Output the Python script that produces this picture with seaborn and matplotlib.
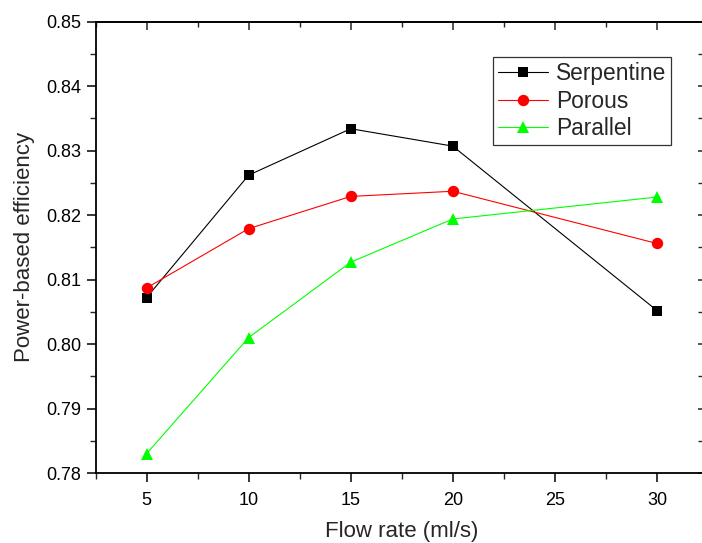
import matplotlib
matplotlib.use("Agg")
import matplotlib.pyplot as plt
from matplotlib.ticker import MultipleLocator
import seaborn as sns
import pandas as pd

flow_rate = [5, 10, 15, 20, 30]
serpentine = [0.8072, 0.8262, 0.8334, 0.8307, 0.8052]
porous = [0.8087, 0.8179, 0.8229, 0.8237, 0.8156]
parallel = [0.7830, 0.8010, 0.8127, 0.8194, 0.8228]
series_names = ["Serpentine", "Porous", "Parallel"]

sns.set_style("ticks")
plt.rcParams["font.family"] = ["Liberation Sans", "DejaVu Sans"]

df = pd.DataFrame({
    "flow": flow_rate * 3,
    "eff": serpentine + porous + parallel,
    "series": [s for s in series_names for _ in flow_rate],
})

fig = plt.figure(figsize=(7.02, 5.43), dpi=100)
ax = fig.add_axes([95.5 / 702, 1 - 473 / 543, (708 - 95.5) / 702, (473 - 21.7) / 543])

styles = {
    "Serpentine": dict(color="#000000", marker="s", ms=7.3),
    "Porous": dict(color="#FF0000", marker="o", ms=8.2),
    "Parallel": dict(color="#00FF00", marker="^", ms=9.0),
}
for name in series_names:
    st = styles[name]
    sub = df[df["series"] == name]
    sns.lineplot(data=sub, x="flow", y="eff", ax=ax, color=st["color"],
                 marker=st["marker"], markersize=st["ms"], markeredgewidth=0,
                 markeredgecolor=st["color"], linewidth=0.8, label=name)

ax.set_xlim(2.5, 32.5)
ax.set_ylim(0.78, 0.85)
ax.xaxis.set_major_locator(MultipleLocator(5))
ax.xaxis.set_minor_locator(MultipleLocator(2.5))
ax.yaxis.set_major_locator(MultipleLocator(0.01))
ax.yaxis.set_minor_locator(MultipleLocator(0.005))
ax.yaxis.set_major_formatter(plt.FormatStrFormatter("%.2f"))

for sp in ax.spines.values():
    sp.set_linewidth(1.3)
    sp.set_color("black")

ax.tick_params(which="major", direction="out", length=6.5, width=1.1, labelsize=13,
               pad=4, colors="black")
ax.tick_params(which="minor", direction="out", length=4, width=1.0)
ax.tick_params(axis="x", pad=7)

secx = ax.secondary_xaxis("top")
secx.xaxis.set_major_locator(MultipleLocator(5))
secx.xaxis.set_minor_locator(MultipleLocator(2.5))
secx.tick_params(which="major", direction="in", length=6, width=1.1, labeltop=False)
secx.tick_params(which="minor", direction="in", length=3.5, width=1.0)
secx.spines["top"].set_linewidth(1.3)

secy = ax.secondary_yaxis("right")
secy.yaxis.set_major_locator(MultipleLocator(0.01))
secy.yaxis.set_minor_locator(MultipleLocator(0.005))
secy.tick_params(which="major", direction="in", length=7.5, width=1.1, labelright=False)
secy.tick_params(which="minor", direction="in", length=7.5, width=1.0)

ax.set_xlabel("Flow rate (ml/s)", fontsize=16, labelpad=9)
ax.set_ylabel("Power-based efficiency", fontsize=16, labelpad=8)

leg = ax.legend(loc="upper left", bbox_to_anchor=(492.7 / 702, 1 - 57 / 543),
                bbox_transform=fig.transFigure, fontsize=16.4, frameon=True,
                fancybox=False, framealpha=1, edgecolor="#333333",
                handlelength=2.2, handletextpad=0.35, labelspacing=0.2,
                borderpad=0.22, borderaxespad=0)
leg.get_frame().set_linewidth(0.9)

fig.savefig("out.png", dpi=100)
